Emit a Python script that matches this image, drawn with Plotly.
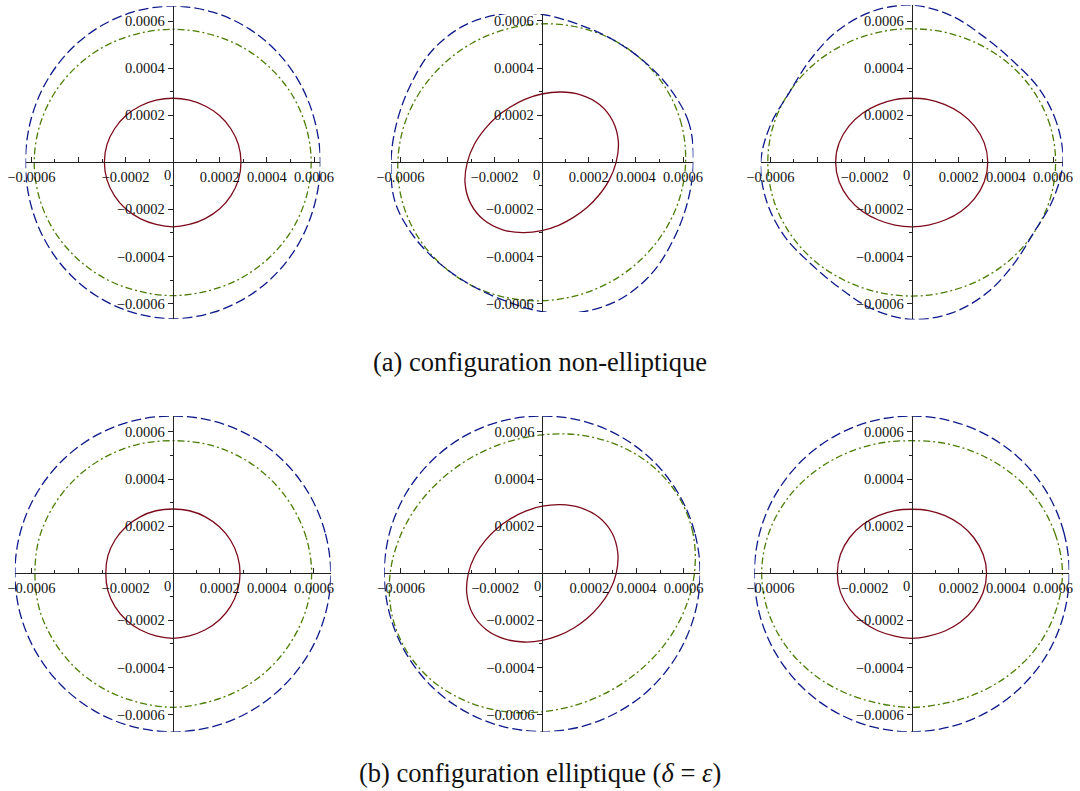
import numpy as np
import plotly.graph_objects as go

W, H = 1080, 791
UNIT = 1e-4            # radii below are in units of 1e-4
PX_PER_UNIT = 23.55e4  # pixels per data unit (equal on both axes)

angles_deg = [0, 15, 30, 45, 60, 75, 90, 105, 120, 135, 150, 165,
              180, 195, 210, 225, 240, 255, 270, 285, 300, 315, 330, 345]

# ---------------- row (a): configuration non-elliptique ----------------
a1_red   = [2.90, 2.89, 2.85, 2.81, 2.76, 2.73, 2.72, 2.73, 2.76, 2.81, 2.85, 2.89,
            2.90, 2.89, 2.85, 2.81, 2.76, 2.73, 2.74, 2.73, 2.76, 2.81, 2.85, 2.89]
a1_green = [5.88, 5.86, 5.82, 5.76, 5.71, 5.66, 5.65, 5.66, 5.71, 5.76, 5.82, 5.86,
            5.88, 5.86, 5.82, 5.76, 5.71, 5.66, 5.66, 5.66, 5.71, 5.76, 5.82, 5.86]
a1_blue  = [6.27, 6.28, 6.35, 6.44, 6.53, 6.60, 6.63, 6.60, 6.53, 6.44, 6.35, 6.28,
            6.25, 6.28, 6.35, 6.44, 6.53, 6.60, 6.64, 6.60, 6.53, 6.44, 6.35, 6.28]

a2_red   = [3.16, 3.37, 3.49, 3.47, 3.31, 3.09, 2.90, 2.77, 2.70, 2.72, 2.80, 2.96,
            3.16, 3.37, 3.49, 3.47, 3.31, 3.09, 2.90, 2.77, 2.70, 2.72, 2.80, 2.96]
a2_green = [6.11, 6.15, 6.14, 6.09, 6.02, 5.94, 5.88, 5.85, 5.86, 5.90, 5.97, 6.05,
            6.11, 6.15, 6.14, 6.09, 6.02, 5.94, 5.88, 5.85, 5.86, 5.90, 5.97, 6.05]
a2_blue  = [6.44, 6.47, 6.28, 6.10, 6.02, 6.06, 6.28, 6.52, 6.68, 6.64, 6.46, 6.38,
            6.40, 6.45, 6.28, 6.10, 6.02, 6.08, 6.34, 6.58, 6.70, 6.64, 6.48, 6.42]

a3_red   = [3.23, 3.19, 3.08, 2.95, 2.83, 2.76, 2.72, 2.76, 2.83, 2.95, 3.08, 3.19,
            3.23, 3.19, 3.08, 2.95, 2.83, 2.76, 2.74, 2.76, 2.83, 2.95, 3.08, 3.19]
a3_green = [6.11, 6.08, 5.99, 5.88, 5.77, 5.70, 5.67, 5.70, 5.77, 5.88, 5.99, 6.08,
            6.11, 6.08, 5.99, 5.88, 5.77, 5.70, 5.68, 5.70, 5.77, 5.88, 5.99, 6.08]
a3_blue  = [6.42, 6.38, 6.25, 6.08, 6.15, 6.45, 6.67, 6.62, 6.40, 6.12, 5.98, 6.20,
            6.41, 6.38, 6.25, 6.08, 6.15, 6.45, 6.67, 6.62, 6.40, 6.12, 5.98, 6.20]

# ---------------- row (b): configuration elliptique ----------------
b1_red   = [2.86, 2.85, 2.83, 2.80, 2.77, 2.75, 2.73, 2.75, 2.77, 2.80, 2.83, 2.85,
            2.84, 2.85, 2.83, 2.80, 2.77, 2.75, 2.76, 2.75, 2.77, 2.80, 2.83, 2.85]
b1_green = [5.90, 5.87, 5.81, 5.76, 5.71, 5.67, 5.63, 5.67, 5.71, 5.76, 5.81, 5.86,
            5.85, 5.86, 5.81, 5.76, 5.71, 5.67, 5.69, 5.67, 5.71, 5.76, 5.81, 5.87]
b1_blue  = [6.71, 6.70, 6.70, 6.70, 6.70, 6.69, 6.68, 6.69, 6.70, 6.70, 6.70, 6.70,
            6.70, 6.70, 6.70, 6.71, 6.72, 6.73, 6.73, 6.73, 6.72, 6.71, 6.71, 6.71]

b2_red   = [3.14, 3.32, 3.42, 3.38, 3.22, 3.02, 2.85, 2.73, 2.68, 2.70, 2.79, 2.95,
            3.14, 3.32, 3.42, 3.38, 3.22, 3.02, 2.85, 2.73, 2.68, 2.70, 2.79, 2.95]
b2_green = [6.46, 6.62, 6.64, 6.52, 6.31, 6.08, 5.88, 5.77, 5.76, 5.84, 6.01, 6.23,
            6.46, 6.62, 6.64, 6.52, 6.31, 6.08, 5.88, 5.77, 5.76, 5.84, 6.01, 6.23]
b2_blue  = [6.70, 6.70, 6.70, 6.70, 6.69, 6.69, 6.68, 6.69, 6.70, 6.70, 6.71, 6.71,
            6.71, 6.71, 6.71, 6.72, 6.72, 6.72, 6.72, 6.72, 6.71, 6.71, 6.70, 6.70]

b3_red   = [3.18, 3.14, 3.04, 2.93, 2.83, 2.76, 2.72, 2.76, 2.83, 2.93, 3.04, 3.13,
            3.16, 3.13, 3.04, 2.93, 2.83, 2.76, 2.76, 2.76, 2.83, 2.93, 3.04, 3.14]
b3_green = [6.40, 6.32, 6.18, 5.99, 5.82, 5.70, 5.63, 5.70, 5.82, 5.99, 6.17, 6.31,
            6.37, 6.31, 6.17, 5.99, 5.82, 5.70, 5.69, 5.70, 5.82, 5.99, 6.18, 6.32]
b3_blue  = [6.69, 6.69, 6.69, 6.69, 6.68, 6.68, 6.68, 6.68, 6.68, 6.68, 6.68, 6.68,
            6.68, 6.69, 6.70, 6.71, 6.72, 6.73, 6.73, 6.72, 6.71, 6.70, 6.70, 6.69]

x_tick_vals = [-6e-4, -4e-4, -2e-4, 2e-4, 4e-4, 6e-4]
x_tick_text = ["\u22120.0006", "", "\u22120.0002", "0.0002", "0.0004", "0.0006"]
y_tick_vals = [-6e-4, -4e-4, -2e-4, 2e-4, 4e-4, 6e-4]
y_tick_text = ["\u22120.0006", "\u22120.0004", "\u22120.0002", "0.0002", "0.0004", "0.0006"]
minor_vals = [-5e-4, -3e-4, -1e-4, 1e-4, 3e-4, 5e-4]

caption_a = "(a) configuration non-elliptique"
caption_b = "(b) configuration elliptique (<i>\u03b4</i> = <i>\u03b5</i>)"

# ---------------- layout / style ----------------
RED, GREEN, BLUE = "#7c0a1a", "#4c7d06", "#0d1a8a"
AXC = "#222222"
SERIF = "Liberation Serif, Times New Roman, DejaVu Serif, serif"
TICK_FONT = dict(family=SERIF, size=14.5, color="#111111")

panels = [
    # (red, green, blue, origin x px, origin y px)
    (a1_red, a1_green, a1_blue, 172.7, 162.3),
    (a2_red, a2_green, a2_blue, 541.7, 162.3),
    (a3_red, a3_green, a3_blue, 911.7, 162.3),
    (b1_red, b1_green, b1_blue, 172.7, 573.3),
    (b2_red, b2_green, b2_blue, 542.3, 573.3),
    (b3_red, b3_green, b3_blue, 911.7, 573.3),
]

th = np.deg2rad(np.array(angles_deg, dtype=float))


def curve(radii):
    r = np.array(radii, dtype=float) * UNIT
    x = r * np.cos(th)
    y = r * np.sin(th)
    return np.append(x, x[0]), np.append(y, y[0])


fig = go.Figure()
layout = dict(width=W, height=H, margin=dict(l=0, r=0, t=0, b=0, pad=0, autoexpand=False),
              paper_bgcolor="white", plot_bgcolor="white", showlegend=False,
              annotations=[])

for i, (rr, rg, rb, ox, oy) in enumerate(panels, start=1):
    sfx = "" if i == 1 else str(i)
    xs, ys = [], []
    for radii, col, dash in ((rr, RED, "solid"),
                             (rg, GREEN, "7px,3px,2px,3px"),
                             (rb, BLUE, "10px,4px")):
        x, y = curve(radii)
        xs.append(x)
        ys.append(y)
        fig.add_trace(go.Scatter(x=x, y=y, mode="lines",
                                 line=dict(color=col, width=1.3, dash=dash,
                                           shape="spline", smoothing=1.0),
                                 cliponaxis=False, hoverinfo="skip",
                                 xaxis="x" + sfx, yaxis="y" + sfx))
    allx = np.concatenate(xs)
    ally = np.concatenate(ys)
    x0, x1 = allx.min(), allx.max()
    y0, y1 = ally.min(), ally.max()
    dom_x = [(ox + x0 * PX_PER_UNIT) / W, (ox + x1 * PX_PER_UNIT) / W]
    dom_y = [1 - (oy - y0 * PX_PER_UNIT) / H, 1 - (oy - y1 * PX_PER_UNIT) / H]
    layout["xaxis" + sfx] = dict(
        domain=dom_x, range=[x0, x1], anchor="free", position=1 - oy / H,
        automargin=False,
        showline=True, linecolor=AXC, linewidth=1, showgrid=False, zeroline=False,
        ticks="inside", ticklen=5, tickwidth=1, tickcolor=AXC,
        tickmode="array", tickvals=x_tick_vals, ticktext=x_tick_text,
        tickfont=TICK_FONT, ticklabelstandoff=1,
        minor=dict(ticks="inside", ticklen=3, tickwidth=1, tickcolor=AXC,
                   tickmode="array", tickvals=minor_vals),
        fixedrange=True)
    layout["yaxis" + sfx] = dict(
        domain=dom_y, range=[y0, y1], anchor="free", position=ox / W, side="left",
        automargin=False,
        showline=True, linecolor=AXC, linewidth=1, showgrid=False, zeroline=False,
        ticks="outside", ticklen=5, tickwidth=1, tickcolor=AXC,
        tickmode="array", tickvals=y_tick_vals, ticktext=y_tick_text,
        tickfont=TICK_FONT, ticklabelstandoff=0,
        minor=dict(ticks="outside", ticklen=3, tickwidth=1, tickcolor=AXC,
                   tickmode="array", tickvals=minor_vals),
        fixedrange=True)
    layout["annotations"].append(dict(
        x=0, y=0, xref="x" + sfx, yref="y" + sfx, text="0", showarrow=False,
        xshift=-5, yshift=-13, font=TICK_FONT))

CAP_FONT = dict(family=SERIF, size=26.5, color="#111111")
layout["annotations"].append(dict(x=0.5, y=1 - 362 / H, xref="paper", yref="paper",
                                  text=caption_a, showarrow=False, font=CAP_FONT,
                                  xanchor="center", yanchor="middle"))
layout["annotations"].append(dict(x=0.5, y=1 - 773 / H, xref="paper", yref="paper",
                                  text=caption_b, showarrow=False, font=CAP_FONT,
                                  xanchor="center", yanchor="middle"))

fig.update_layout(**layout)
fig.write_html("out.html", config={"displayModeBar": False, "staticPlot": True},
               post_script="document.body.style.margin='0px';")
